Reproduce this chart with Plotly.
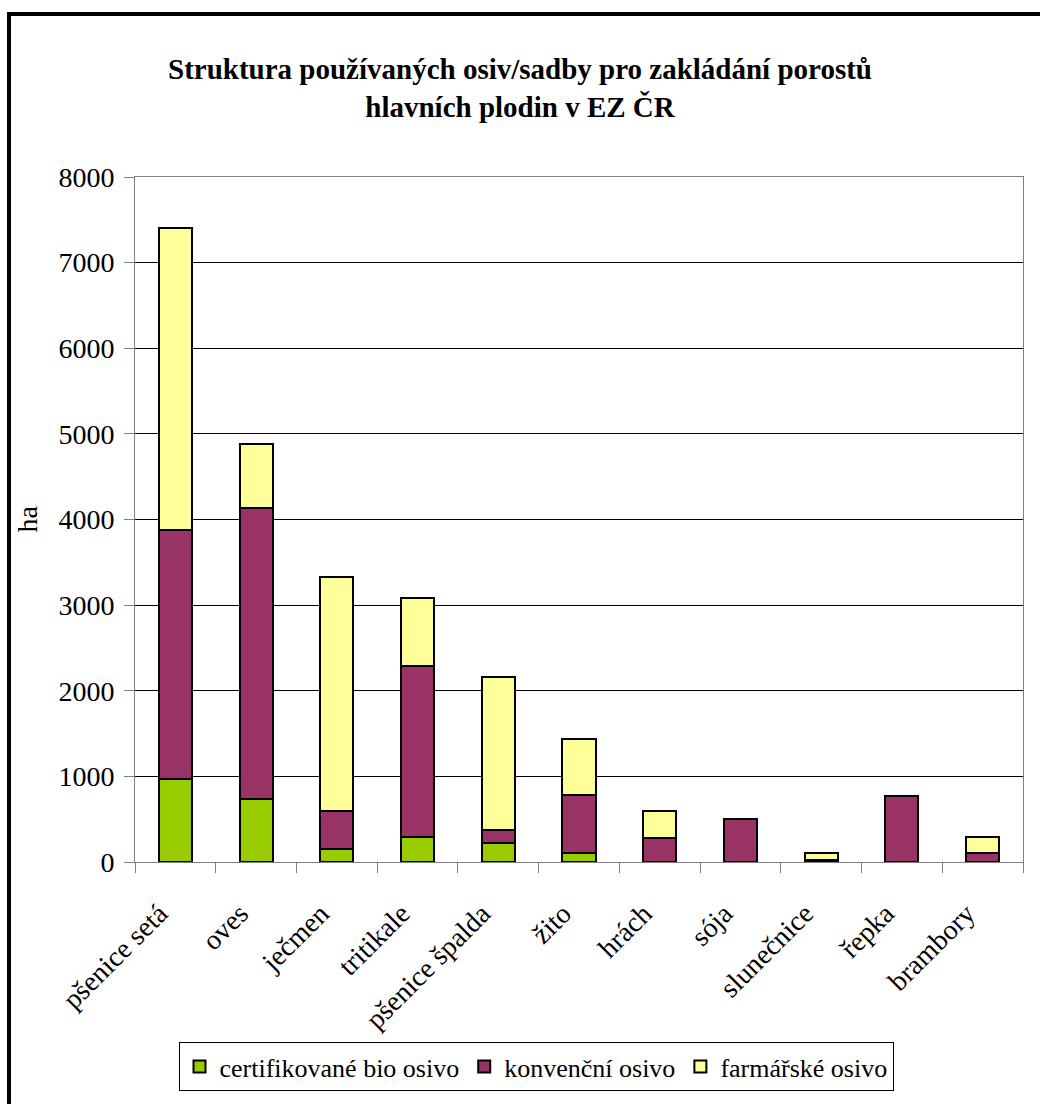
import plotly.graph_objects as go

categories = ["pšenice setá", "oves", "ječmen", "tritikale", "pšenice špalda",
              "žito", "hrách", "sója", "slunečnice", "řepka", "brambory"]
bio = [973, 730, 152, 288, 218, 106, 0, 0, 5, 0, 0]
konv = [2900, 3403, 441, 2005, 161, 671, 282, 508, 15, 774, 106]
farm = [3537, 753, 2736, 790, 1785, 657, 316, 0, 90, 0, 182]
series_names = ["certifikované bio osivo", "konvenční osivo", "farmářské osivo"]
series_colors = ["#99CC00", "#993366", "#FFFF99"]
y_ticks = [0, 1000, 2000, 3000, 4000, 5000, 6000, 7000, 8000]

FONT = "Liberation Serif"

fig = go.Figure()
for name, vals, col in zip(series_names, [bio, konv, farm], series_colors):
    fig.add_trace(go.Bar(
        x=categories, y=vals, name=name,
        marker=dict(color=col, line=dict(color="#000000", width=2)),
    ))

W, H = 1040, 1104
L, R, T, B = 135, 17, 177, 242
pw = W - L - R
ph = H - T - B

def px(x):
    return (x - L) / pw

def py(y):
    return (H - B - y) / ph

fig.update_layout(
    width=W, height=H,
    margin=dict(l=L, r=R, t=T, b=B),
    barmode="stack",
    bargap=0.59,
    paper_bgcolor="white",
    plot_bgcolor="white",
    font=dict(family=FONT, size=26, color="#000000"),
    title=dict(
        text="<b>Struktura používaných osiv/sadby pro zakládání porostů<br>hlavních plodin v EZ ČR</b>",
        x=0.5, xref="container", xanchor="center",
        y=1 - 79 / H, yref="container", yanchor="top",
        font=dict(family=FONT, size=29, color="#000000"),
    ),
    showlegend=True,
    legend=dict(
        orientation="h",
        x=px(536), xanchor="center",
        y=py(1042), yanchor="top",
        bordercolor="#000000", borderwidth=1,
        font=dict(family=FONT, size=26, color="#000000"),
        traceorder="normal",
        itemsizing="constant",
    ),
    xaxis=dict(
        type="category",
        tickangle=-45,
        ticks="outside", tickson="boundaries", ticklen=10, tickcolor="#808080",
        showline=True, linecolor="#808080", linewidth=1,
        mirror=True,
        showgrid=False,
        tickfont=dict(family=FONT, size=28, color="#000000"),
        ticklabelstandoff=23,
        ticklabelshift=-16,
    ),
    yaxis=dict(
        range=[0, 8000],
        tickvals=y_ticks,
        ticks="outside", ticklen=10, tickcolor="#808080",
        showline=True, linecolor="#808080", linewidth=1,
        mirror=True,
        showgrid=True, gridcolor="#000000", gridwidth=1,
        zeroline=False,
        tickfont=dict(family=FONT, size=28, color="#000000"),
        ticklabelstandoff=4,
    ),
    annotations=[dict(
        text="ha", xref="paper", yref="paper",
        x=px(27), y=0.5, xanchor="center", yanchor="middle",
        textangle=-90, showarrow=False,
        font=dict(family=FONT, size=28, color="#000000"),
    )],
    shapes=[
        dict(type="line", xref="paper", yref="paper",
             x0=px(7), x1=px(1045), y0=py(14), y1=py(14),
             line=dict(color="#000000", width=4), layer="above"),
        dict(type="line", xref="paper", yref="paper",
             x0=px(9), x1=px(9), y0=py(12), y1=py(1110),
             line=dict(color="#000000", width=4), layer="above"),
    ],
)

fig.write_html("out.html")
